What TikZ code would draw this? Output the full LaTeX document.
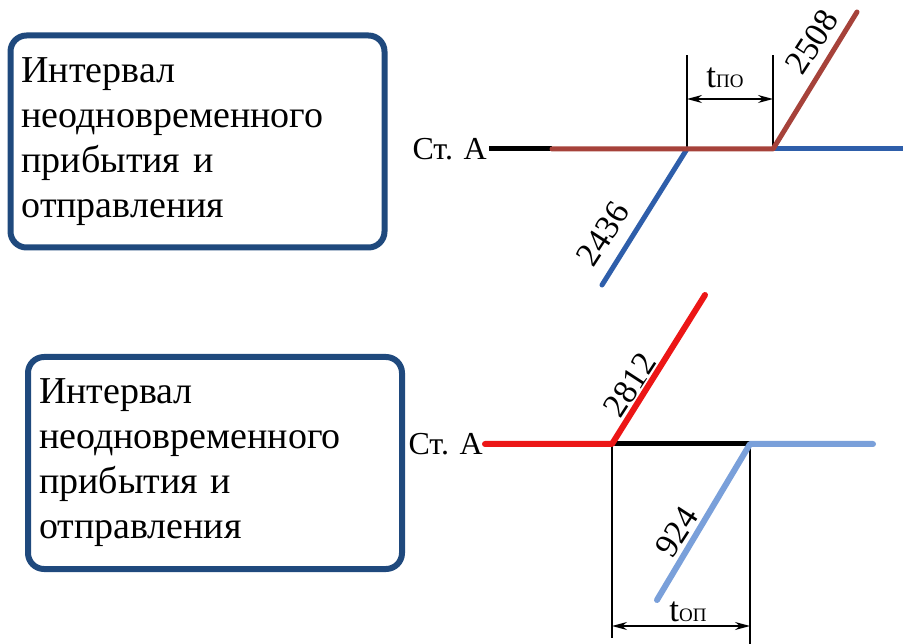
\documentclass[tikz,border=0pt]{standalone}
\usepackage{fontspec}
\setmainfont{Liberation Serif}
\usetikzlibrary{arrows.meta}

\definecolor{boxblue}{RGB}{31,73,125}
\definecolor{trainbrown}{RGB}{166,66,58}
\definecolor{trainblue}{RGB}{46,94,170}
\definecolor{trainred}{RGB}{236,22,22}
\definecolor{trainlight}{RGB}{122,160,218}

\newcommand{\intervalt}[1]{t{\fontsize{19}{19}\selectfont #1}}

\tikzset{
	infobox/.style={draw=boxblue, line width=6pt, rounded corners=16pt,
		minimum width=374pt, minimum height=212pt, text width=352pt,
		inner xsep=11pt, align=left, font=\fontsize{38}{45}\selectfont},
	train/.style={line width=5pt, line cap=round, line join=round},
	dimline/.style={line width=1.2pt},
	stlabel/.style={font=\fontsize{32}{32}\selectfont, inner sep=2pt},
	numlabel/.style={font=\fontsize{34}{34}\selectfont, inner sep=0pt, rotate=57},
	tlabel/.style={font=\fontsize{35}{35}\selectfont, inner sep=0pt}
}

\begin{document}
\begin{tikzpicture}[x=1pt, y=-1pt, >={Stealth[length=15pt,width=8pt]}]
	\useasboundingbox (0,0) rectangle (903,644);
	
	% upper case
	\node[infobox] (box1) at (197.5,141.5) {Интервал\\неодновременного\\прибытия и\\отправления};
	\node[stlabel, anchor=east] (stA1) at (489,149) {Ст. А};
	\coordinate (u1) at (552,149);
	\coordinate (u2) at (687,149);
	\coordinate (u3) at (773,149);
	\coordinate (u4) at (903,149);
	\coordinate (uup) at (857,12);
	\coordinate (udown) at (602,285);
	\coordinate (ut1) at (687,55);
	\coordinate (ut2) at (773,55);
	\coordinate (ua1) at (687,99);
	\coordinate (ua2) at (773,99);
	
	\draw[dimline] (u2) -- (ut1);
	\draw[dimline] (u3) -- (ut2);
	\draw[dimline, <->] (ua1) -- (ua2);
	\node[tlabel] (tpo) at (725,78) {\intervalt{ПО}};
	
	\draw[train, black, line cap=butt] (stA1.east) -- (u1);
	\draw[train, trainblue] (udown) -- (u2);
	\draw[train, trainblue, line cap=butt] (u3) -- (u4);
	\draw[train, trainbrown] (u1) -- (u3) -- (uup);
	\node[numlabel] (n2508) at (812,42) {2508};
	\node[numlabel] (n2436) at (603,234) {2436};
	
	% lower case
	\node[infobox] (box2) at (215,463) {Интервал\\неодновременного\\прибытия и\\отправления};
	\node[stlabel, anchor=east] (stA2) at (485,444) {Ст. А};
	\coordinate (l1) at (612,444);
	\coordinate (l2) at (750,444);
	\coordinate (l3) at (873,444);
	\coordinate (lup) at (705,295);
	\coordinate (ldown) at (657,600);
	\coordinate (lt1) at (612,638);
	\coordinate (lt2) at (750,644);
	\coordinate (la1) at (612,626);
	\coordinate (la2) at (750,626);
	
	\draw[dimline] (l1) -- (lt1);
	\draw[dimline] (l2) -- (lt2);
	\draw[dimline, <->] (la1) -- (la2);
	\node[tlabel] (top) at (688,612) {\intervalt{ОП}};
	
	\draw[train, black, line cap=butt] (l1) -- (l2);
	\draw[train, trainred, line width=6pt] (stA2.east) -- (l1) -- (lup);
	\draw[train, trainlight, line width=6pt] (ldown) -- (l2) -- (l3);
	\node[numlabel] (n2812) at (630,385) {2812};
	\node[numlabel] (n924) at (677,532) {924};
\end{tikzpicture}
\end{document}
